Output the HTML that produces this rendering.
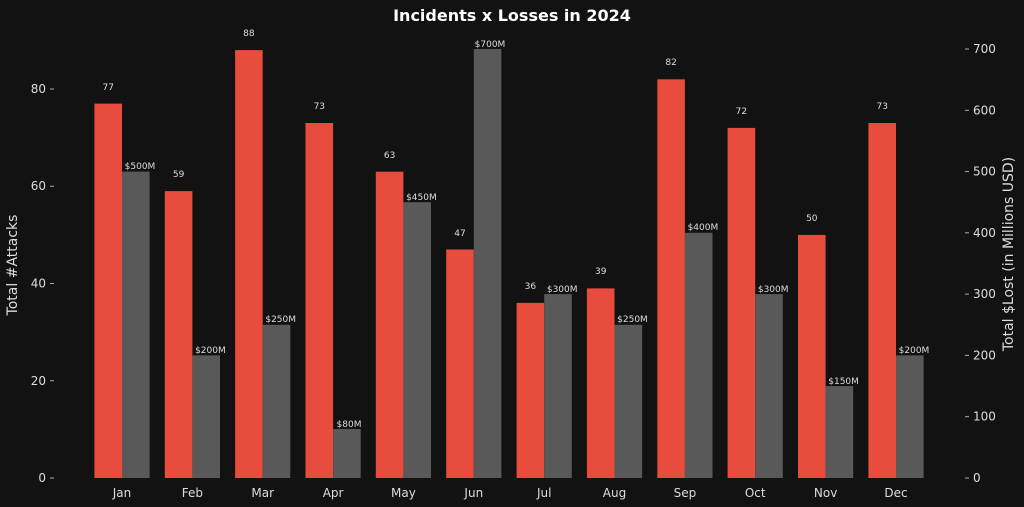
<!DOCTYPE html>
<html><head><style>body{margin:0;background:#121212}svg{display:block}text{font-family:"DejaVu Sans","Liberation Sans",sans-serif}</style></head><body>
<svg width="1024" height="507" viewBox="0 0 1024 507">
<rect width="1024" height="507" fill="#121212"/>
<text x="512" y="21" fill="#fff" font-size="16" font-weight="bold" text-anchor="middle">Incidents x Losses in 2024</text>
<g fill="#e74c3c">
<rect x="94.4" y="103.6" width="27.6" height="374.4"/>
<rect x="164.8" y="191.1" width="27.6" height="286.9"/>
<rect x="235.1" y="50.1" width="27.6" height="427.9"/>
<rect x="305.5" y="123" width="27.6" height="355"/>
<rect x="375.8" y="171.7" width="27.6" height="306.3"/>
<rect x="446.2" y="249.5" width="27.6" height="228.5"/>
<rect x="516.6" y="302.9" width="27.6" height="175.1"/>
<rect x="586.9" y="288.4" width="27.6" height="189.6"/>
<rect x="657.3" y="79.3" width="27.6" height="398.7"/>
<rect x="727.6" y="127.9" width="27.6" height="350.1"/>
<rect x="798" y="234.9" width="27.6" height="243.1"/>
<rect x="868.4" y="123" width="27.6" height="355"/>
</g>
<g fill="#595959">
<rect x="122" y="171.6" width="27.6" height="306.4"/>
<rect x="192.4" y="355.4" width="27.6" height="122.6"/>
<rect x="262.7" y="324.8" width="27.6" height="153.2"/>
<rect x="333.1" y="429" width="27.6" height="49"/>
<rect x="403.4" y="202.2" width="27.6" height="275.8"/>
<rect x="473.8" y="49" width="27.6" height="429"/>
<rect x="544.2" y="294.1" width="27.6" height="183.9"/>
<rect x="614.5" y="324.8" width="27.6" height="153.2"/>
<rect x="684.9" y="232.8" width="27.6" height="245.2"/>
<rect x="755.2" y="294.1" width="27.6" height="183.9"/>
<rect x="825.6" y="386.1" width="27.6" height="91.9"/>
<rect x="896" y="355.4" width="27.6" height="122.6"/>
</g>
<g fill="#ddd" font-size="9" text-anchor="middle">
<text x="108.2" y="90">77</text><text x="178.6" y="177">59</text><text x="248.9" y="36">88</text><text x="319.3" y="109">73</text><text x="389.6" y="158">63</text><text x="460" y="236">47</text><text x="530.4" y="289">36</text><text x="600.7" y="274">39</text><text x="671.1" y="65">82</text><text x="741.4" y="114">72</text><text x="811.8" y="221">50</text><text x="882.2" y="109">73</text>
<text x="140" y="169">$500M</text><text x="210.4" y="353">$200M</text><text x="280.7" y="322">$250M</text><text x="349" y="427">$80M</text><text x="421.4" y="200">$450M</text><text x="490" y="47">$700M</text><text x="562.2" y="292">$300M</text><text x="632.5" y="322">$250M</text><text x="702.9" y="230">$400M</text><text x="773.2" y="292">$300M</text><text x="843.6" y="384">$150M</text><text x="914" y="353">$200M</text>
</g>
<g fill="#ddd" font-size="12" text-anchor="middle">
<text x="122" y="497">Jan</text><text x="192.4" y="497">Feb</text><text x="262.7" y="497">Mar</text><text x="333.1" y="497">Apr</text><text x="403.4" y="497">May</text><text x="473.8" y="497">Jun</text><text x="544.2" y="497">Jul</text><text x="614.5" y="497">Aug</text><text x="684.9" y="497">Sep</text><text x="755.2" y="497">Oct</text><text x="825.6" y="497">Nov</text><text x="896" y="497">Dec</text>
</g>
<g stroke="#aaa" stroke-width="1">
<line x1="50" x2="54" y1="478" y2="478"/><line x1="50" x2="54" y1="380.75" y2="380.75"/><line x1="50" x2="54" y1="283.5" y2="283.5"/><line x1="50" x2="54" y1="186.25" y2="186.25"/><line x1="50" x2="54" y1="89" y2="89"/>
<line x1="965" x2="969" y1="478" y2="478"/><line x1="965" x2="969" y1="416.7" y2="416.7"/><line x1="965" x2="969" y1="355.4" y2="355.4"/><line x1="965" x2="969" y1="294.1" y2="294.1"/><line x1="965" x2="969" y1="232.8" y2="232.8"/><line x1="965" x2="969" y1="171.6" y2="171.6"/><line x1="965" x2="969" y1="110.3" y2="110.3"/><line x1="965" x2="969" y1="49" y2="49"/>
</g>
<g fill="#ddd" font-size="12" text-anchor="end">
<text x="46" y="482">0</text><text x="46" y="385">20</text><text x="46" y="287.5">40</text><text x="46" y="190">60</text><text x="46" y="93">80</text>
</g>
<g fill="#ddd" font-size="12">
<text x="973" y="482">0</text><text x="973" y="420.7">100</text><text x="973" y="359.4">200</text><text x="973" y="298.1">300</text><text x="973" y="236.8">400</text><text x="973" y="175.6">500</text><text x="973" y="114.3">600</text><text x="973" y="53">700</text>
</g>
<text transform="translate(17,265) rotate(-90)" fill="#ddd" font-size="14" text-anchor="middle">Total #Attacks</text>
<text transform="translate(1013,254) rotate(-90)" fill="#ddd" font-size="14" text-anchor="middle">Total $Lost (in Millions USD)</text>
</svg>
</body></html>
